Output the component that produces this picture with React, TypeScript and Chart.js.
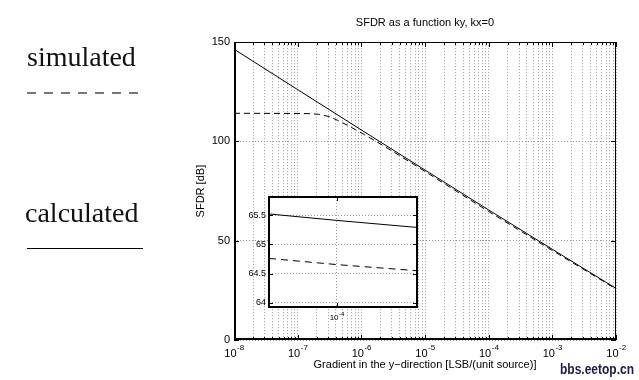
import React, { useEffect, useRef } from "react";
import { Chart, registerables } from "chart.js";

Chart.register(...registerables);

const FONT = '"Liberation Sans", Arial, Helvetica, sans-serif';

// Main chart data
const xTickExps = [-8, -7, -6, -5, -4, -3, -2];
const yTickValues = [0, 50, 100, 150];

const calcX = [1e-8, 1e-7, 1e-6, 1e-5, 1e-4, 1e-3, 1e-2];
const calcY = [146.5, 126.1, 105.8, 85.6, 65.5, 45.7, 26.0];

const simX = [
  1e-8, 1e-7, 1.585e-7, 2.138e-7, 3.162e-7, 4.266e-7, 6.026e-7, 8.128e-7,
  1.122e-6, 1.585e-6, 2.138e-6, 3.981e-6, 1e-5, 1e-4, 1e-3, 1e-2,
];
const simY = [
  114.2, 114.1, 114.0, 113.7, 112.5, 110.6, 108.2, 105.9,
  103.4, 100.6, 98.2, 92.9, 84.9, 64.7, 45.1, 25.7,
];

// Inset data
const insetX = [9.88e-5, 1e-4, 1.0144e-4];
const insetCalcY = [65.52, 65.41, 65.29];
const insetSimY = [64.76, 64.655, 64.55];
const insetYTicks = [64, 64.5, 65, 65.5];
const insetXTickExps = [-4];

const TITLE = "SFDR as a function ky, kx=0";
const X_TITLE = "Gradient in the y\u2212direction [LSB/(unit source)]";
const Y_TITLE = "SFDR [dB]";

function drawPow(
  ctx: CanvasRenderingContext2D,
  x: number,
  yBase: number,
  exp: number,
  baseSize: number,
  expSize: number,
  rise: number
) {
  const baseFont = `${baseSize}px ${FONT}`;
  const expFont = `${expSize}px ${FONT}`;
  const es = String(exp);
  ctx.font = baseFont;
  const w1 = ctx.measureText("10").width;
  ctx.font = expFont;
  const w2 = ctx.measureText(es).width;
  const start = x - (w1 + w2) / 2;
  ctx.textAlign = "left";
  ctx.textBaseline = "alphabetic";
  ctx.fillStyle = "#000";
  ctx.font = baseFont;
  ctx.fillText("10", start, yBase);
  ctx.font = expFont;
  ctx.fillText(es, start + w1 + 0.5, yBase - rise);
}

const mainDecor = {
  id: "mainDecor",
  afterDraw(chart: any) {
    const ctx: CanvasRenderingContext2D = chart.ctx;
    const ca = chart.chartArea;
    const left = Math.round(ca.left);
    const right = Math.round(ca.right);
    const top = Math.round(ca.top);
    const bottom = Math.round(ca.bottom);
    const xs = chart.scales.x;
    const ys = chart.scales.y;
    ctx.save();
    ctx.strokeStyle = "#000";
    ctx.lineWidth = 1;
    ctx.beginPath();
    for (const t of xs.ticks) {
      const px = Math.round(xs.getPixelForValue(t.value)) + 0.5;
      const len = t.major ? 5 : 3;
      ctx.moveTo(px, bottom);
      ctx.lineTo(px, bottom - len);
      ctx.moveTo(px, top);
      ctx.lineTo(px, top + len);
    }
    for (const v of yTickValues) {
      const py = Math.round(ys.getPixelForValue(v)) + 0.5;
      ctx.moveTo(left, py);
      ctx.lineTo(left + 5, py);
      ctx.moveTo(right, py);
      ctx.lineTo(right - 5, py);
    }
    ctx.stroke();
    // frame
    ctx.strokeRect(left + 0.5, top + 0.5, right - left - 1, bottom - top - 1);
    ctx.lineWidth = 2;
    ctx.beginPath();
    ctx.moveTo(left + 1, top);
    ctx.lineTo(left + 1, bottom);
    ctx.moveTo(left, bottom - 1);
    ctx.lineTo(right, bottom - 1);
    ctx.stroke();
    // x tick labels
    for (const e of xTickExps) {
      drawPow(ctx, xs.getPixelForValue(Math.pow(10, e)), 357, e, 11, 8, 7);
    }
    ctx.restore();
  },
};

const insetDecor = {
  id: "insetDecor",
  beforeDraw(chart: any) {
    const ctx: CanvasRenderingContext2D = chart.ctx;
    const ca = chart.chartArea;
    ctx.save();
    ctx.fillStyle = "#fff";
    ctx.fillRect(ca.left, ca.top, ca.right - ca.left, ca.bottom - ca.top);
    ctx.restore();
  },
  afterDraw(chart: any) {
    const ctx: CanvasRenderingContext2D = chart.ctx;
    const ca = chart.chartArea;
    const left = Math.round(ca.left);
    const right = Math.round(ca.right);
    const top = Math.round(ca.top);
    const bottom = Math.round(ca.bottom);
    const xs = chart.scales.x;
    const ys = chart.scales.y;
    ctx.save();
    ctx.strokeStyle = "#000";
    ctx.lineWidth = 1;
    ctx.beginPath();
    for (const e of insetXTickExps) {
      const px = Math.round(xs.getPixelForValue(Math.pow(10, e))) + 0.5;
      ctx.moveTo(px, bottom);
      ctx.lineTo(px, bottom - 4);
      ctx.moveTo(px, top);
      ctx.lineTo(px, top + 4);
    }
    for (const v of insetYTicks) {
      const py = Math.round(ys.getPixelForValue(v)) + 0.5;
      ctx.moveTo(left, py);
      ctx.lineTo(left + 4, py);
      ctx.moveTo(right, py);
      ctx.lineTo(right - 4, py);
    }
    ctx.stroke();
    ctx.lineWidth = 2;
    ctx.strokeRect(left, top, right - left, bottom - top);
    for (const e of insetXTickExps) {
      drawPow(ctx, xs.getPixelForValue(Math.pow(10, e)), 132, e, 8, 6, 4);
    }
    ctx.restore();
  },
};

const gridOpts = { color: "#9a9a9a", lineWidth: 1, drawTicks: false, tickLength: 0 };
const borderOpts = { display: false, dash: [1, 2] };

export default function App() {
  const mainRef = useRef<HTMLCanvasElement>(null);
  const insetRef = useRef<HTMLCanvasElement>(null);

  useEffect(() => {
    Chart.defaults.font.family = FONT;
    const main = new Chart(mainRef.current as HTMLCanvasElement, {
      type: "line",
      data: {
        datasets: [
          {
            label: "calculated",
            data: calcX.map((x, i) => ({ x, y: calcY[i] })),
            borderColor: "#000",
            borderWidth: 1,
            pointRadius: 0,
            tension: 0,
            fill: false,
          },
          {
            label: "simulated",
            data: simX.map((x, i) => ({ x, y: simY[i] })),
            borderColor: "#000",
            borderWidth: 1,
            borderDash: [6, 4],
            pointRadius: 0,
            tension: 0,
            fill: false,
          },
        ],
      },
      options: {
        responsive: false,
        animation: false,
        devicePixelRatio: 1,
        layout: { padding: { left: 190, right: 23, top: 0, bottom: 0 } },
        plugins: {
          legend: { display: false },
          tooltip: { enabled: false },
          title: {
            display: true,
            text: TITLE,
            color: "#000",
            font: { size: 11, weight: "normal", family: FONT },
            padding: { top: 16, bottom: 13 },
            fullSize: false,
          } as any,
        },
        scales: {
          x: {
            type: "logarithmic",
            min: 1e-8,
            max: 1e-2,
            afterBuildTicks: (s: any) => {
              const arr: any[] = [];
              xTickExps.forEach((e, i) => {
                const lim = i === xTickExps.length - 1 ? 1 : 9;
                for (let m = 1; m <= lim; m++) {
                  arr.push({ value: m * Math.pow(10, e), major: m === 1 });
                }
              });
              s.ticks = arr;
            },
            ticks: { display: false, autoSkip: false },
            grid: gridOpts,
            border: borderOpts,
            title: {
              display: true,
              text: X_TITLE,
              color: "#000",
              font: { size: 11, family: FONT },
              padding: { top: 0, bottom: 8 },
            },
            afterFit: (s: any) => {
              s.height = 40;
            },
          } as any,
          y: {
            type: "linear",
            min: 0,
            max: 150,
            afterBuildTicks: (s: any) => {
              s.ticks = yTickValues.map((v) => ({ value: v }));
            },
            ticks: {
              color: "#000",
              font: { size: 11, family: FONT },
              padding: 4,
              callback: (v: any) => String(v),
            },
            grid: gridOpts,
            border: borderOpts,
            title: {
              display: true,
              text: Y_TITLE,
              color: "#000",
              font: { size: 11, family: FONT },
              padding: { top: 4, bottom: 0 },
            },
            afterFit: (s: any) => {
              s.width = 44;
            },
          } as any,
        },
      },
      plugins: [mainDecor],
    });

    const inset = new Chart(insetRef.current as HTMLCanvasElement, {
      type: "line",
      data: {
        datasets: [
          {
            label: "calculated",
            data: insetX.map((x, i) => ({ x, y: insetCalcY[i] })),
            borderColor: "#000",
            borderWidth: 1,
            pointRadius: 0,
            tension: 0,
          },
          {
            label: "simulated",
            data: insetX.map((x, i) => ({ x, y: insetSimY[i] })),
            borderColor: "#000",
            borderWidth: 1,
            borderDash: [7, 5],
            pointRadius: 0,
            tension: 0,
          },
        ],
      },
      options: {
        responsive: false,
        animation: false,
        devicePixelRatio: 1,
        layout: { padding: { left: 0, right: 13, top: 9, bottom: 0 } },
        plugins: { legend: { display: false }, tooltip: { enabled: false } },
        scales: {
          x: {
            type: "logarithmic",
            min: 9.88e-5,
            max: 1.0144e-4,
            afterBuildTicks: (s: any) => {
              s.ticks = insetXTickExps.map((e) => ({ value: Math.pow(10, e), major: true }));
            },
            ticks: { display: false, autoSkip: false },
            grid: gridOpts,
            border: borderOpts,
            afterFit: (s: any) => {
              s.height = 16;
            },
          } as any,
          y: {
            type: "linear",
            min: 63.93,
            max: 65.81,
            afterBuildTicks: (s: any) => {
              s.ticks = insetYTicks.map((v) => ({ value: v }));
            },
            ticks: {
              color: "#000",
              font: { size: 9, family: FONT },
              padding: 3,
              callback: (v: any) => String(v),
            },
            grid: gridOpts,
            border: borderOpts,
            afterFit: (s: any) => {
              s.width = 29;
            },
          } as any,
        },
      },
      plugins: [insetDecor],
    });

    return () => {
      main.destroy();
      inset.destroy();
    };
  }, []);

  const serif = '"Liberation Serif", "Times New Roman", serif';

  return (
    <div
      style={{
        position: "fixed",
        left: 0,
        top: 0,
        width: 639,
        height: 380,
        background: "#fff",
        overflow: "hidden",
      }}
    >
      <canvas ref={mainRef} width={639} height={380} style={{ position: "absolute", left: 0, top: 0 }} />
      <canvas ref={insetRef} width={190} height={135} style={{ position: "absolute", left: 240, top: 188 }} />
      <div
        style={{
          position: "absolute",
          left: 27,
          top: 43,
          fontFamily: serif,
          fontSize: 28,
          lineHeight: "28px",
          color: "#111",
          whiteSpace: "nowrap",
        }}
      >
        simulated
      </div>
      <div
        style={{
          position: "absolute",
          left: 27,
          top: 92,
          width: 112,
          height: 2,
          background: "repeating-linear-gradient(to right, #777 0px, #777 9px, transparent 9px, transparent 17px)",
        }}
      />
      <div
        style={{
          position: "absolute",
          left: 25,
          top: 198.5,
          fontFamily: serif,
          fontSize: 28,
          lineHeight: "28px",
          color: "#111",
          whiteSpace: "nowrap",
        }}
      >
        calculated
      </div>
      <div
        style={{
          position: "absolute",
          left: 27,
          top: 248,
          width: 116,
          height: 1,
          background: "#000",
        }}
      />
      <div
        style={{
          position: "absolute",
          left: 560,
          top: 361,
          fontFamily: FONT,
          fontWeight: "bold",
          fontSize: 15,
          lineHeight: "15px",
          color: "#1c1c44",
          whiteSpace: "nowrap",
          transform: "scaleX(0.8)",
          transformOrigin: "left top",
        }}
      >
        bbs.eetop.cn
      </div>
    </div>
  );
}
